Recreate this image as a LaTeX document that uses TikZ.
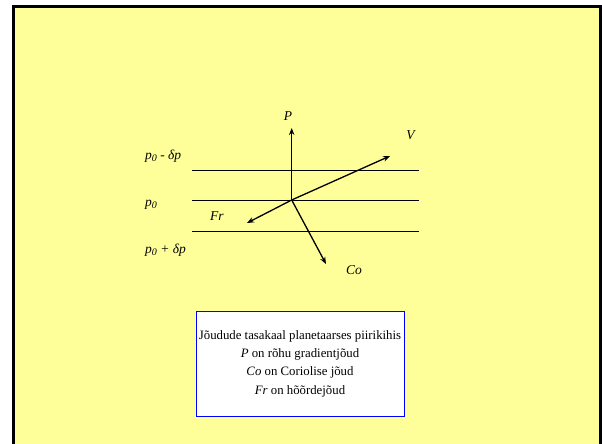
\documentclass[tikz,border=0pt]{standalone}
\usepackage{fontspec}
\usetikzlibrary{arrows.meta}
\setmainfont{Liberation Serif}
\newcommand{\sbz}{\raisebox{-0.35ex}{\fontsize{10}{10}\selectfont 0}}
\begin{document}
\begin{tikzpicture}[x=1pt,y=-1pt,
  lbl/.style={font=\fontsize{13.5}{15}\selectfont\itshape, inner sep=0pt},
  vec/.style={-{Stealth[length=7pt,width=5.5pt]}, line width=1.3pt},
  iso/.style={line width=0.9pt}]
\useasboundingbox (0,0) rectangle (602,444);
\fill[white] (0,0) rectangle (602,444);
\draw[line width=2.6pt, fill={rgb,255:red,255;green,255;blue,153}] (13.5,6.3) rectangle (600.7,452);
% isobars
\coordinate (a1) at (192,170); \coordinate (a2) at (419,170);
\coordinate (b1) at (192,200); \coordinate (b2) at (419,200);
\coordinate (c1) at (192,231); \coordinate (c2) at (419,231);
\draw[iso] (a1) -- (a2);
\draw[iso] (b1) -- (b2);
\draw[iso] (c1) -- (c2);
% vectors
\coordinate (O) at (291.7,200);
\coordinate (Pt) at (291.7,128);
\coordinate (Vt) at (390,156);
\coordinate (Ft) at (247,223);
\coordinate (Ct) at (326,264);
\draw[vec] (O) -- (Pt);
\draw[vec] (O) -- (Vt);
\draw[vec] (O) -- (Ft);
\draw[vec] (O) -- (Ct);
% labels
\node[lbl] (P) at (288,116) {P};
\node[lbl] (V) at (410.5,135.5) {V};
\node[lbl, anchor=west] (Fr) at (210,216.5) {Fr};
\node[lbl, anchor=west] (Co) at (346,270.5) {Co};
\node[lbl, anchor=west] (pm) at (145,156) {p\sbz\ - δp};
\node[lbl, anchor=west] (p0) at (145,204.5) {p\sbz};
\node[lbl, anchor=west] (pp) at (145,250.5) {p\sbz\ + δp};
% caption box
\node[draw={rgb,255:red,0;green,0;blue,255}, line width=0.9pt, fill=white,
  minimum width=208pt, minimum height=105pt, inner sep=0pt, align=center,
  font=\fontsize{12.8}{18.3}\selectfont] (cap) at (300,363.5)
  {Jõudude tasakaal planetaarses piirikihis\\
   \textit{P} on rõhu gradientjõud\\
   \textit{Co} on Coriolise jõud\\
   \textit{Fr} on hõõrdejõud};
\end{tikzpicture}
\end{document}
